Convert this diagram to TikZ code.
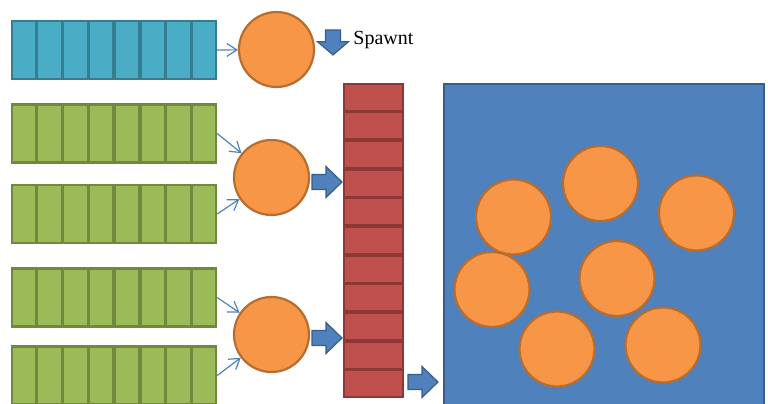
\documentclass[tikz,border=0pt]{standalone}
\usepackage{fontspec}
\setmainfont{Liberation Serif}
\usetikzlibrary{calc,arrows.meta}

\definecolor{tealfill}{HTML}{4BACC6}
\definecolor{tealline}{HTML}{357D91}
\definecolor{greenfill}{HTML}{9BBB59}
\definecolor{greenline}{HTML}{71893F}
\definecolor{redfill}{HTML}{C0504D}
\definecolor{redline}{HTML}{8C3836}
\definecolor{orangefill}{HTML}{F79646}
\definecolor{orangeline}{HTML}{B66D31}
\definecolor{poolfill}{HTML}{4F81BD}
\definecolor{poolline}{HTML}{385D8A}

\tikzset{
    queue/.style={draw, line width=1.2pt, inner sep=0pt, minimum width=102pt, minimum height=29pt},
    worker/.style={circle, draw=orangeline, fill=orangefill, line width=1.1pt, minimum size=37.5pt, inner sep=0pt},
    feed/.style={draw=poolfill, line width=0.6pt, -{Straight Barb[length=5pt,width=6.5pt]}},
    fatarrow/.pic={
        \draw[draw=poolline, fill=poolfill, line width=0.6pt]
            (-15,-7.5) -- (-1,-7.5) -- (-1,-15.5) -- (15,0) -- (-1,15.5) -- (-1,7.5) -- (-15,7.5) -- cycle;
    }
}

\begin{document}
\begin{tikzpicture}[x=0.5pt, y=-0.5pt]
    \clip (0,0) rectangle (768,403);

    % incoming queues
    \node[queue, draw=tealline,  fill=tealfill]  (qs) at (114,50) {};
    \node[queue, draw=greenline, fill=greenfill] (q1) at (114,133.5) {};
    \node[queue, draw=greenline, fill=greenfill] (q2) at (114,214) {};
    \node[queue, draw=greenline, fill=greenfill] (q3) at (114,297.5) {};
    \node[queue, draw=greenline, fill=greenfill] (q4) at (114,375.5) {};
    \foreach \q/\c in {qs/tealline, q1/greenline, q2/greenline, q3/greenline, q4/greenline}
        \foreach \k in {1,...,7}
            \draw[\c, line width=1.7pt] ($(\q.north west)!\k/8!(\q.north east)$) -- ($(\q.south west)!\k/8!(\q.south east)$);

    % workers
    \node[worker] (ws) at (276.5,49.5) {};
    \node[worker] (w1) at (271.5,177.5) {};
    \node[worker] (w2) at (271.5,334.5) {};

    \draw[feed] (qs.east) -- (ws);
    \draw[feed] (q1.east) -- (w1);
    \draw[feed] (q2.east) -- (w1);
    \draw[feed] (q3.east) -- (w2);
    \draw[feed] (q4.east) -- (w2);

    \pic[rotate=-90, xscale=0.83] at (333,42.5) {fatarrow};
    \node[anchor=base west, inner sep=0pt, font=\fontsize{10}{12}\selectfont] (spawn) at (353,44) {Spawnt};

    % shared queue
    \node[draw=redline, fill=redfill, line width=1.2pt, inner sep=0pt,
          minimum width=29.5pt, minimum height=156.5pt] (shared) at (373.5,240.5) {};
    \foreach \k in {1,...,10}
        \draw[redline, line width=1.7pt] ($(shared.north west)!\k/11!(shared.south west)$) -- ($(shared.north east)!\k/11!(shared.south east)$);

    \pic at (327,182) {fatarrow};
    \pic at (327,338) {fatarrow};
    \pic at (423,382) {fatarrow};

    % pool
    \node[draw=poolline, fill=poolfill, line width=1pt, inner sep=0pt, anchor=north west,
          minimum width=160pt, minimum height=164pt] (pool) at (443,83) {};
    \foreach \x/\y [count=\i] in {513.5/217, 600.5/183.5, 696.5/213, 492/289.5, 617/278.5, 557/349, 663/345}
        \node[worker] (p\i) at (\x,\y) {};

\end{tikzpicture}
\end{document}
